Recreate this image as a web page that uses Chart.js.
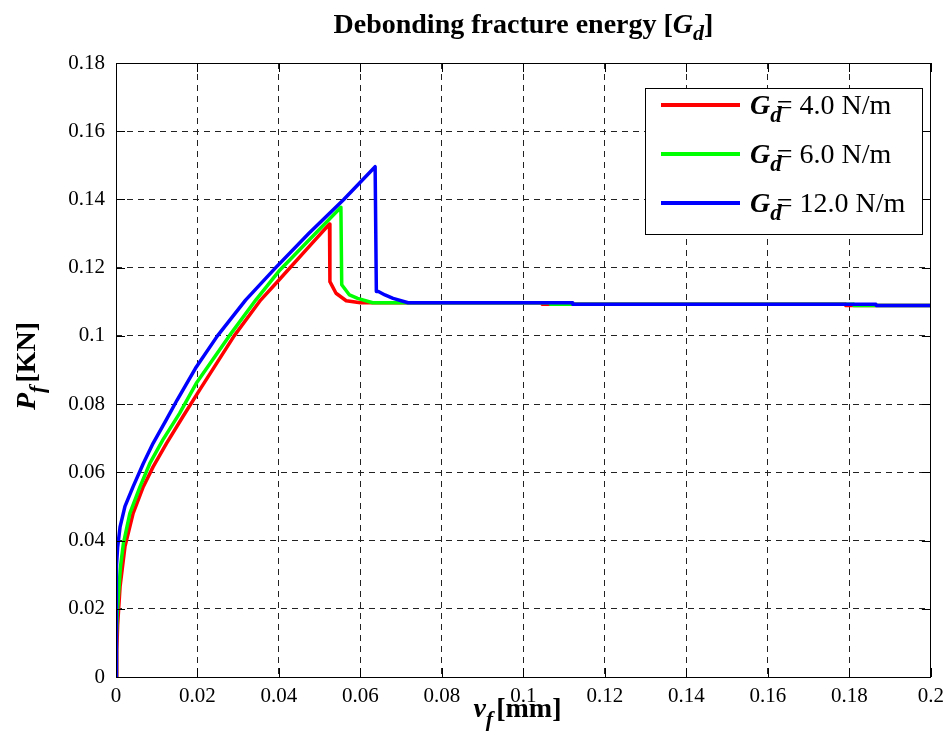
<!DOCTYPE html>
<html lang="en">

<head>
    <meta charset="UTF-8">
    <title>Debonding fracture energy</title>
    <script src="https://cdn.jsdelivr.net/npm/chart.js"></script>
    <style>
        body {
            margin: 0;
            background: #fff;
        }
    </style>
</head>

<body>
    <canvas id="myChart" width="951" height="754"></canvas>

    <script>
        // Gd = 4.0 N/m
        const redX = [0, 0.0002, 0.0004, 0.001, 0.0022, 0.0042, 0.0067, 0.0091, 0.0124, 0.0164, 0.0205, 0.029, 0.0355, 0.040, 0.0481, 0.0524, 0.0525, 0.054, 0.0565, 0.060, 0.1045, 0.1046, 0.179, 0.1791, 0.2];
        const redY = [0, 0.008, 0.0152, 0.0265, 0.0382, 0.048, 0.0558, 0.0616, 0.0685, 0.0763, 0.0841, 0.100, 0.1105, 0.1164, 0.1271, 0.1328, 0.1159, 0.1125, 0.1103, 0.1097, 0.1097, 0.1093, 0.1093, 0.1089, 0.1089];
        // Gd = 6.0 N/m
        const greenX = [0, 0.0001, 0.0003, 0.0011, 0.0018, 0.0034, 0.0059, 0.0083, 0.0115, 0.0156, 0.0197, 0.0278, 0.0343, 0.040, 0.0481, 0.0552, 0.0554, 0.0573, 0.0593, 0.063, 0.1065, 0.1066, 0.181, 0.1811, 0.2];
        const greenY = [0, 0.012, 0.0188, 0.0323, 0.039, 0.048, 0.0558, 0.0626, 0.0695, 0.0773, 0.0861, 0.100, 0.1105, 0.1190, 0.129, 0.1377, 0.115, 0.112, 0.111, 0.1097, 0.1097, 0.1093, 0.1093, 0.1089, 0.1089];
        // Gd = 12.0 N/m
        const blueX = [0, 0.0001, 0.0004, 0.001, 0.0022, 0.0042, 0.0067, 0.0091, 0.0124, 0.0150, 0.0195, 0.0249, 0.0318, 0.0392, 0.0473, 0.0559, 0.0636, 0.0639, 0.0644, 0.066, 0.068, 0.0717, 0.112, 0.1121, 0.1865, 0.1866, 0.2];
        const blueY = [0, 0.0323, 0.038, 0.044, 0.050, 0.0558, 0.0626, 0.0685, 0.0755, 0.0812, 0.0905, 0.100, 0.1105, 0.120, 0.130, 0.140, 0.1496, 0.113, 0.113, 0.112, 0.111, 0.1097, 0.1097, 0.1093, 0.1093, 0.1089, 0.1089];

        const xTickLabels = ['0', '0.02', '0.04', '0.06', '0.08', '0.1', '0.12', '0.14', '0.16', '0.18', '0.2'];
        const yTickLabels = ['0', '0.02', '0.04', '0.06', '0.08', '0.1', '0.12', '0.14', '0.16', '0.18'];
        const legendValues = ['= 4.0 N/m', '= 6.0 N/m', '= 12.0 N/m'];

        const SERIF = '"Liberation Serif", "Times New Roman", serif';

        function toPoints(xs, ys) {
            return xs.map((x, i) => ({ x: x, y: ys[i] }));
        }

        // draw a run of text pieces with different fonts (italic, subscript ...)
        function drawRich(ctx, parts, x, y, align) {
            let total = 0;
            parts.forEach(p => {
                ctx.font = p.font;
                p.w = ctx.measureText(p.t).width;
                total += p.w + (p.gap || 0);
            });
            let cx = x;
            if (align === 'center') cx = x - total / 2;
            ctx.textAlign = 'left';
            ctx.textBaseline = 'alphabetic';
            parts.forEach(p => {
                ctx.font = p.font;
                ctx.fillText(p.t, cx, y + (p.dy || 0));
                cx += p.w + (p.gap || 0);
            });
        }

        const decorPlugin = {
            id: 'decor',
            afterDraw(chart) {
                const { ctx, chartArea: a, scales: { x, y } } = chart;
                ctx.save();
                ctx.fillStyle = '#000';
                ctx.strokeStyle = '#000';
                ctx.lineWidth = 1;

                // box
                ctx.strokeRect(Math.round(a.left) + 0.5, Math.round(a.top) + 0.5,
                    Math.round(a.right - a.left) - 1, Math.round(a.bottom - a.top));

                // inner tick marks on all four sides
                const tl = 9;
                ctx.beginPath();
                x.ticks.forEach(t => {
                    const px = Math.round(x.getPixelForValue(t.value)) + 0.5;
                    ctx.moveTo(px, a.bottom); ctx.lineTo(px, a.bottom - tl);
                    ctx.moveTo(px, a.top); ctx.lineTo(px, a.top + tl);
                });
                y.ticks.forEach(t => {
                    const py = Math.round(y.getPixelForValue(t.value)) + 0.5;
                    ctx.moveTo(a.left, py); ctx.lineTo(a.left + tl, py);
                    ctx.moveTo(a.right, py); ctx.lineTo(a.right - tl, py);
                });
                ctx.stroke();

                // title
                drawRich(ctx, [
                    { t: 'Debonding fracture energy [', font: 'bold 28px ' + SERIF },
                    { t: 'G', font: 'italic bold 28px ' + SERIF },
                    { t: 'd', font: 'italic bold 22px ' + SERIF, dy: 7 },
                    { t: ']', font: 'bold 28px ' + SERIF }
                ], (a.left + a.right) / 2, 33, 'center');

                // x axis label
                drawRich(ctx, [
                    { t: 'v', font: 'italic bold 28px ' + SERIF },
                    { t: 'f', font: 'italic bold 22px ' + SERIF, dy: 9, gap: 3 },
                    { t: '[mm]', font: 'bold 28px ' + SERIF }
                ], (a.left + a.right) / 2 - 6, 717, 'center');

                // y axis label
                ctx.save();
                ctx.translate(35, (a.top + a.bottom) / 2 - 4);
                ctx.rotate(-Math.PI / 2);
                drawRich(ctx, [
                    { t: 'P', font: 'italic bold 28px ' + SERIF },
                    { t: 'f', font: 'italic bold 22px ' + SERIF, dy: 9, gap: 3 },
                    { t: '[KN]', font: 'bold 28px ' + SERIF }
                ], 0, 0, 'center');
                ctx.restore();

                // legend
                const lx = 645, ly = 88, lw = 277, lh = 146;
                ctx.fillStyle = '#fff';
                ctx.fillRect(lx, ly, lw, lh);
                ctx.strokeRect(lx + 0.5, ly + 0.5, lw, lh);
                chart.data.datasets.slice().reverse().forEach((ds, i) => {
                    const rowY = 105 + i * 49;
                    ctx.strokeStyle = ds.borderColor;
                    ctx.lineWidth = 4;
                    ctx.beginPath();
                    ctx.moveTo(661, rowY);
                    ctx.lineTo(740, rowY);
                    ctx.stroke();
                    ctx.fillStyle = '#000';
                    drawRich(ctx, [
                        { t: 'G', font: 'italic bold 28px ' + SERIF },
                        { t: 'd', font: 'italic bold 23px ' + SERIF, dy: 8, gap: -5 },
                        { t: legendValues[i], font: '28px ' + SERIF }
                    ], 750, rowY + 9, 'left');
                });
                ctx.restore();
            }
        };

        const ctx = document.getElementById('myChart').getContext('2d');
        const chart = new Chart(ctx, {
            type: 'line',
            data: {
                datasets: [
                    {
                        label: 'Gd = 12.0 N/m',
                        data: toPoints(blueX, blueY),
                        borderColor: '#0000ff',
                        order: 0
                    },
                    {
                        label: 'Gd = 6.0 N/m',
                        data: toPoints(greenX, greenY),
                        borderColor: '#00ff00',
                        order: 1
                    },
                    {
                        label: 'Gd = 4.0 N/m',
                        data: toPoints(redX, redY),
                        borderColor: '#ff0000',
                        order: 2
                    }
                ]
            },
            options: {
                responsive: false,
                animation: false,
                layout: {
                    padding: { top: 63, right: 15, left: 0, bottom: 0 }
                },
                elements: {
                    line: {
                        borderWidth: 3.5,
                        tension: 0,
                        fill: false,
                        borderJoinStyle: 'round',
                        borderCapStyle: 'round'
                    },
                    point: { radius: 0 }
                },
                scales: {
                    x: {
                        type: 'linear',
                        min: 0,
                        max: 0.2,
                        afterFit(scale) { scale.height = 77; },
                        ticks: {
                            stepSize: 0.02,
                            padding: 7,
                            color: '#000',
                            font: { family: SERIF, size: 21 },
                            maxRotation: 0,
                            callback: (v, i) => xTickLabels[i]
                        },
                        grid: { color: '#222', lineWidth: 1, drawTicks: false },
                        border: { display: false, dash: [6, 5] }
                    },
                    y: {
                        type: 'linear',
                        min: 0,
                        max: 0.18,
                        afterFit(scale) { scale.width = 116; },
                        ticks: {
                            stepSize: 0.02,
                            padding: 11,
                            color: '#000',
                            font: { family: SERIF, size: 21 },
                            callback: (v, i) => yTickLabels[i]
                        },
                        grid: { color: '#222', lineWidth: 1, drawTicks: false },
                        border: { display: false, dash: [6, 5] }
                    }
                },
                plugins: {
                    legend: { display: false },
                    tooltip: { enabled: false }
                }
            },
            plugins: [decorPlugin]
        });
    </script>
</body>

</html>
